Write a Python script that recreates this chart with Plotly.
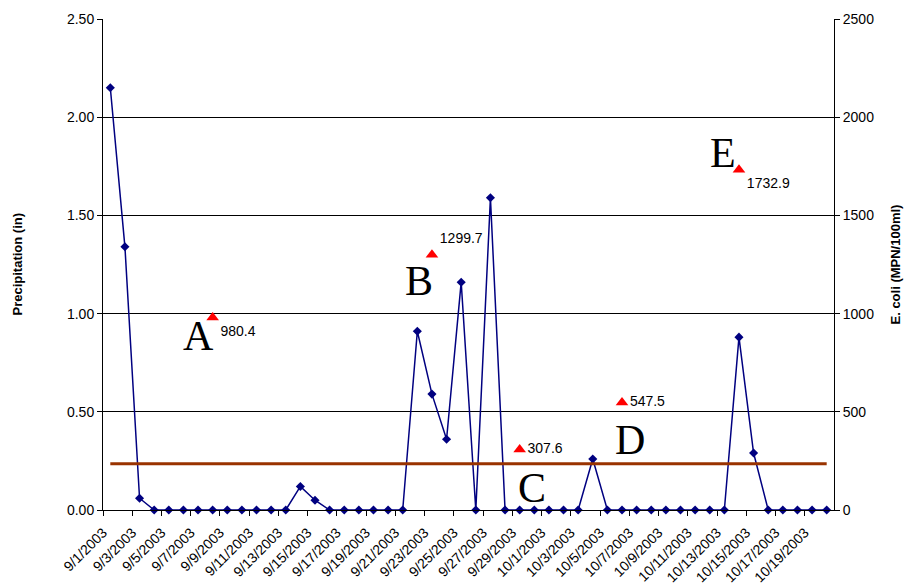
import pandas as pd
import plotly.graph_objects as go

# ---- data ----
dates = pd.date_range("2003-09-01", "2003-10-20", freq="D")
precip_in = [2.15, 1.34, 0.06, 0, 0, 0, 0, 0, 0, 0, 0, 0, 0,
             0.12, 0.05, 0, 0, 0, 0, 0, 0,
             0.91, 0.59, 0.36, 1.16, 0, 1.59, 0,
             0, 0, 0, 0, 0, 0.26,
             0, 0, 0, 0, 0, 0, 0, 0, 0,
             0.88, 0.29, 0, 0, 0, 0, 0]
ecoli_dates = ["2003-09-08", "2003-09-23", "2003-09-29", "2003-10-06", "2003-10-14"]
ecoli_vals = [980.4, 1299.7, 307.6, 547.5, 1732.9]
sample_letters = ["A", "B", "C", "D", "E"]
ecoli_standard = 235
tick_label_dates = dates[::2]
tick_labels = [f"{d.month}/{d.day}/{d.year}" for d in tick_label_dates]

FONT = "Arial, Liberation Sans, sans-serif"
SERIF = "Times New Roman, Liberation Serif, serif"

fig = go.Figure()

fig.add_trace(go.Scatter(
    x=dates, y=precip_in, mode="lines+markers",
    line=dict(color="#000080", width=1.5),
    marker=dict(symbol="diamond", size=7, color="#000080"),
    showlegend=False, cliponaxis=False))

fig.add_trace(go.Scatter(
    x=[dates[0], dates[-1]], y=[ecoli_standard, ecoli_standard], yaxis="y2",
    mode="lines", line=dict(color="#993300", width=3), showlegend=False))

text_pos = ["bottom right", "top right", "middle right", "middle right", "bottom right"]
fig.add_trace(go.Scatter(
    x=ecoli_dates, y=ecoli_vals, yaxis="y2", mode="markers+text",
    marker=dict(symbol="triangle-up", size=11, color="#ff0000"),
    text=[f"{v:.1f}" for v in ecoli_vals], textposition=text_pos,
    textfont=dict(family=FONT, size=14, color="#000000"),
    showlegend=False, cliponaxis=False))

letter_shift = [(-14, -19), (-13, -26), (12, -38), (8, -38), (-16, 17)]
for d, v, L, (dx, dy) in zip(ecoli_dates, ecoli_vals, sample_letters, letter_shift):
    fig.add_annotation(x=d, y=v, yref="y2", text=L, showarrow=False,
                       xshift=dx, yshift=dy,
                       font=dict(family=SERIF, size=42, color="#000000"))

fig.add_annotation(x=0, xref="paper", y=0.5, yref="paper", xshift=-86,
                   xanchor="center", yanchor="middle",
                   text="<b>Precipitation (in)</b>", textangle=-90, showarrow=False,
                   font=dict(family=FONT, size=13, color="#000000"))
fig.add_annotation(x=1, xref="paper", y=0.5, yref="paper", xshift=61,
                   xanchor="center", yanchor="middle",
                   text="<b>E. coli (MPN/100ml)</b>", textangle=-90, showarrow=False,
                   font=dict(family=FONT, size=13, color="#000000"))

half_day = pd.Timedelta(hours=12)
fig.update_layout(
    width=905, height=586,
    margin=dict(l=103, r=71, t=19, b=76, autoexpand=False),
    paper_bgcolor="white", plot_bgcolor="white",
    font=dict(family=FONT, size=14, color="#000000"),
    xaxis=dict(
        range=[dates[0] - half_day, dates[-1] + half_day],
        tickmode="array",
        tickvals=[d - half_day for d in tick_label_dates],
        ticktext=tick_labels, tickangle=-45, automargin=False,
        ticks="outside", ticklen=5, tickcolor="black", ticklabelstandoff=3,
        showline=True, linecolor="black", linewidth=1,
        showgrid=False, zeroline=False,
        tickfont=dict(family=FONT, size=14, color="#000000")),
    yaxis=dict(
        range=[0, 2.5], tickmode="array", tickvals=[0, 0.5, 1, 1.5, 2, 2.5],
        ticktext=["0.00", "0.50", "1.00", "1.50", "2.00", "2.50"],
        ticks="outside", ticklen=5, tickcolor="black", automargin=False,
        showline=True, linecolor="black", linewidth=1,
        showgrid=True, gridcolor="black", gridwidth=1, zeroline=False,
        tickfont=dict(family=FONT, size=14, color="#000000")),
    yaxis2=dict(
        range=[0, 2500], overlaying="y", side="right",
        tickmode="array", tickvals=[0, 500, 1000, 1500, 2000, 2500],
        ticks="outside", ticklen=5, tickcolor="black", automargin=False,
        showline=True, linecolor="black", linewidth=1,
        showgrid=False, zeroline=False,
        tickfont=dict(family=FONT, size=14, color="#000000")),
)

fig.write_html("out.html")
